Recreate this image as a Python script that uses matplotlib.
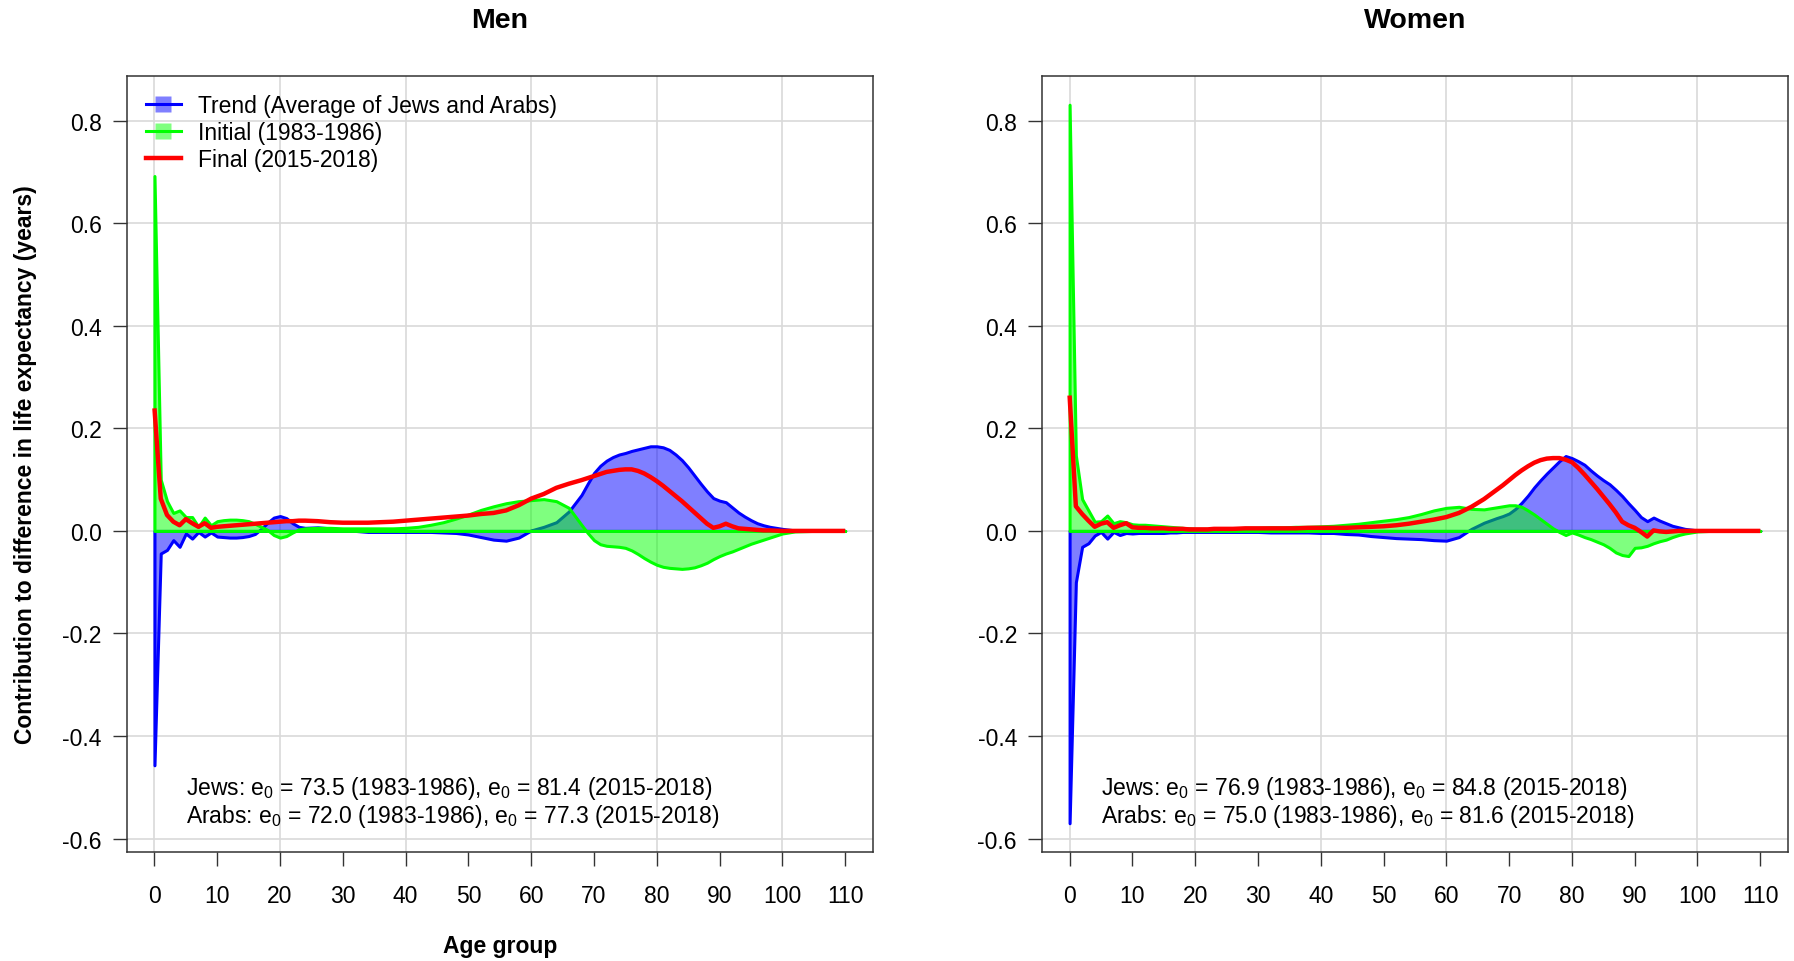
import matplotlib
matplotlib.use("Agg")
import matplotlib.pyplot as plt
from matplotlib.lines import Line2D

plt.rcParams.update({"font.family": ["Liberation Sans", "DejaVu Sans"], "font.size": 16.5,
                     "mathtext.fontset": "custom", "mathtext.rm": "Liberation Sans",
                     "mathtext.it": "Liberation Sans:italic"})

# single years 0-24, every 2 years 26-68, single years 69-97, then sparse to 110
AGES = list(range(0, 25)) + list(range(26, 69, 2)) + list(range(69, 98)) + [98, 100, 102, 105, 110]

MEN_TREND = [-0.457, -0.044, -0.037, -0.018, -0.031, -0.005, -0.015, -0.002, -0.011, -0.003,
             -0.011, -0.012, -0.013, -0.013, -0.012, -0.010, -0.006, 0.004, 0.016, 0.026,
             0.029, 0.025, 0.015, 0.008, 0.006,
             0.007, 0.005, 0.003, 0.000, -0.002, -0.002, -0.002, -0.002, -0.002, -0.002, -0.003,
             -0.004, -0.007, -0.012, -0.017, -0.019, -0.013, 0.001, 0.008, 0.017, 0.038, 0.070,
             0.092, 0.113, 0.127, 0.137, 0.144, 0.149, 0.152, 0.156, 0.159, 0.162, 0.165, 0.165,
             0.163, 0.158, 0.149, 0.138, 0.124, 0.108, 0.092, 0.077, 0.064, 0.059, 0.056, 0.046,
             0.036, 0.028, 0.021, 0.015, 0.011,
             0.008, 0.004, 0.001, 0.0, 0.0]
MEN_INITIAL = [0.692, 0.100, 0.058, 0.035, 0.040, 0.027, 0.027, 0.008, 0.026, 0.011,
               0.019, 0.021, 0.022, 0.022, 0.021, 0.019, 0.014, 0.008, 0.002, -0.008,
               -0.013, -0.010, -0.003, 0.003, 0.005,
               0.006, 0.006, 0.005, 0.005, 0.005, 0.005, 0.005, 0.006, 0.008, 0.012, 0.017,
               0.024, 0.032, 0.041, 0.048, 0.054, 0.058, 0.060, 0.062, 0.058, 0.045, 0.012,
               -0.004, -0.018, -0.026, -0.029, -0.030, -0.031, -0.033, -0.038, -0.045, -0.053,
               -0.060, -0.066, -0.070, -0.072, -0.073, -0.074, -0.073, -0.071, -0.067, -0.062,
               -0.055, -0.049, -0.044, -0.040, -0.035, -0.030, -0.025, -0.021, -0.017,
               -0.013, -0.005, -0.001, 0.0, 0.0]
MEN_FINAL = [0.239, 0.063, 0.031, 0.018, 0.011, 0.023, 0.015, 0.008, 0.015, 0.006,
             0.008, 0.009, 0.010, 0.011, 0.012, 0.013, 0.014, 0.015, 0.016, 0.017,
             0.018, 0.019, 0.019, 0.020, 0.020,
             0.019, 0.017, 0.016, 0.016, 0.016, 0.017, 0.018, 0.020, 0.022, 0.024, 0.026,
             0.028, 0.030, 0.033, 0.035, 0.040, 0.050, 0.063, 0.072, 0.084, 0.092, 0.099,
             0.103, 0.107, 0.111, 0.115, 0.117, 0.119, 0.120, 0.120, 0.117, 0.112, 0.105, 0.097,
             0.088, 0.078, 0.068, 0.058, 0.047, 0.036, 0.025, 0.014, 0.006, 0.009, 0.014, 0.009,
             0.005, 0.004, 0.003, 0.002, 0.001,
             0.001, 0.0, 0.0, 0.0, 0.0]

WOMEN_TREND = [-0.570, -0.100, -0.031, -0.024, -0.009, -0.002, -0.015, -0.002, -0.008, -0.004,
               -0.005, -0.004, -0.004, -0.004, -0.004, -0.004, -0.003, -0.003, -0.002, -0.002,
               -0.002, -0.002, -0.002, -0.002, -0.002,
               -0.002, -0.002, -0.002, -0.003, -0.003, -0.003, -0.003, -0.004, -0.004, -0.006,
               -0.007, -0.010, -0.012, -0.014, -0.015, -0.016, -0.018, -0.019, -0.012, 0.004,
               0.016, 0.025,
               0.029, 0.034, 0.043, 0.055, 0.069, 0.085, 0.099, 0.112, 0.124, 0.136, 0.146, 0.142,
               0.136, 0.129, 0.118, 0.108, 0.099, 0.091, 0.080, 0.068, 0.054, 0.041, 0.027, 0.019,
               0.026, 0.020, 0.015, 0.010, 0.007,
               0.004, 0.001, 0.0, 0.0, 0.0]
WOMEN_INITIAL = [0.831, 0.147, 0.062, 0.040, 0.018, 0.019, 0.030, 0.015, 0.019, 0.017,
                 0.013, 0.012, 0.012, 0.011, 0.010, 0.009, 0.008, 0.007, 0.006, 0.005,
                 0.004, 0.004, 0.004, 0.004, 0.005,
                 0.005, 0.006, 0.006, 0.007, 0.007, 0.008, 0.008, 0.009, 0.010, 0.012, 0.014,
                 0.017, 0.020, 0.023, 0.027, 0.033, 0.040, 0.045, 0.047, 0.043, 0.042, 0.046,
                 0.048, 0.050, 0.050, 0.047, 0.040, 0.032, 0.023, 0.014, 0.005, -0.002, -0.008,
                 -0.003, -0.007, -0.012, -0.016, -0.021, -0.026, -0.033, -0.042, -0.047, -0.049,
                 -0.033, -0.032, -0.029, -0.024, -0.020, -0.017, -0.012, -0.008,
                 -0.005, -0.001, 0.0, 0.0, 0.0]
WOMEN_FINAL = [0.264, 0.048, 0.033, 0.020, 0.008, 0.014, 0.017, 0.006, 0.011, 0.015,
               0.007, 0.006, 0.006, 0.005, 0.005, 0.005, 0.004, 0.004, 0.004, 0.003,
               0.003, 0.003, 0.003, 0.004, 0.004,
               0.004, 0.005, 0.005, 0.005, 0.005, 0.005, 0.006, 0.006, 0.006, 0.006, 0.007,
               0.008, 0.009, 0.011, 0.014, 0.018, 0.022, 0.027, 0.035, 0.047, 0.062, 0.080,
               0.089, 0.099, 0.109, 0.118, 0.126, 0.133, 0.138, 0.141, 0.142, 0.142, 0.139, 0.134,
               0.123, 0.110, 0.096, 0.082, 0.067, 0.052, 0.036, 0.018, 0.011, 0.006, -0.002, -0.011,
               0.001, -0.001, -0.002, -0.001, 0.0,
               0.0, 0.0, 0.0, 0.0, 0.0]

PANELS = ["Men", "Women"]
E0_TEXT = {
    "Men": ["Jews: e$_0$ = 73.5 (1983-1986), e$_0$ = 81.4 (2015-2018)",
            "Arabs: e$_0$ = 72.0 (1983-1986), e$_0$ = 77.3 (2015-2018)"],
    "Women": ["Jews: e$_0$ = 76.9 (1983-1986), e$_0$ = 84.8 (2015-2018)",
              "Arabs: e$_0$ = 75.0 (1983-1986), e$_0$ = 81.6 (2015-2018)"],
}
LABELS = ["Trend (Average of Jews and Arabs)", "Initial (1983-1986)", "Final (2015-2018)"]
XTICKS = list(range(0, 111, 10))
YTICKS = [-0.6, -0.4, -0.2, 0.0, 0.2, 0.4, 0.6, 0.8]
XGRID = list(range(0, 101, 20))

BLUE, GREEN, RED = "#0000FF", "#00FF00", "#FF0000"
GRID = "#D9D9D9"

data = {"Men": (MEN_TREND, MEN_INITIAL, MEN_FINAL),
        "Women": (WOMEN_TREND, WOMEN_INITIAL, WOMEN_FINAL)}
allv = [v for s in data.values() for ser in s for v in ser]
ylo, yhi = min(allv), max(allv)
ypad = 0.04 * (yhi - ylo)
xpad = 0.04 * (AGES[-1] - AGES[0])

fig = plt.figure(figsize=(17.94, 9.62), dpi=100)
lefts = [0.0707, 0.5808]
for name, left in zip(PANELS, lefts):
    trend, initial, final = data[name]
    ax = fig.add_axes([left, 0.1133, 0.4158, 0.8067])
    for g in YTICKS:
        ax.axhline(g, color=GRID, lw=1.2, zorder=0)
    for g in XGRID:
        ax.axvline(g, color=GRID, lw=1.2, zorder=0)
    ax.fill_between(AGES, 0, trend, facecolor=(0, 0, 1, 0.5), edgecolor=BLUE, lw=2.2, zorder=2)
    ax.fill_between(AGES, 0, initial, facecolor=(0, 1, 0, 0.5), edgecolor=GREEN, lw=2.2, zorder=3)
    ax.plot(AGES, final, color=RED, lw=3.2, zorder=4, solid_capstyle="butt")
    ax.set_xlim(AGES[0] - xpad, AGES[-1] + xpad)
    ax.set_ylim(ylo - ypad, yhi + ypad)
    ax.set_xticks(XTICKS)
    ax.set_yticks(YTICKS)
    ax.set_yticklabels([f"{t:.1f}" for t in YTICKS])
    ax.tick_params(axis="both", length=10, width=1, labelsize=16.5, color="#333333")
    ax.tick_params(axis="x", pad=13)
    ax.tick_params(axis="y", pad=8)
    for sp in ax.spines.values():
        sp.set_color("#333333")
        sp.set_linewidth(1.1)
    fig.text(left + 0.4158 / 2, 0.9786, name, ha="center", va="center", fontsize=20.5, fontweight="bold")
    ax.text(5, -0.501, E0_TEXT[name][0], fontsize=16.5, va="center", ha="left")
    ax.text(5, -0.555, E0_TEXT[name][1], fontsize=16.5, va="center", ha="left")
    if name == "Men":
        handles = [Line2D([], [], color=BLUE, lw=2.2, marker="s", ms=11, mfc=(0, 0, 1, 0.5), mec="none"),
                   Line2D([], [], color=GREEN, lw=2.2, marker="s", ms=11, mfc=(0, 1, 0, 0.5), mec="none"),
                   Line2D([], [], color=RED, lw=3.2)]
        ax.legend(handles, LABELS, loc="upper left", bbox_to_anchor=(0.026, 0.977), frameon=False,
                  fontsize=16.5, handlelength=1.5, handletextpad=0.78, labelspacing=0.17,
                  borderaxespad=0, borderpad=0, numpoints=1)
        ax.set_ylabel("Contribution to difference in life expectancy (years)", fontsize=16.5,
                      fontweight="bold", labelpad=18)
        fig.text(left + 0.4158 / 2, 0.0159, "Age group", ha="center", va="center",
                 fontsize=16.5, fontweight="bold")

fig.savefig("out.png", dpi=100)
